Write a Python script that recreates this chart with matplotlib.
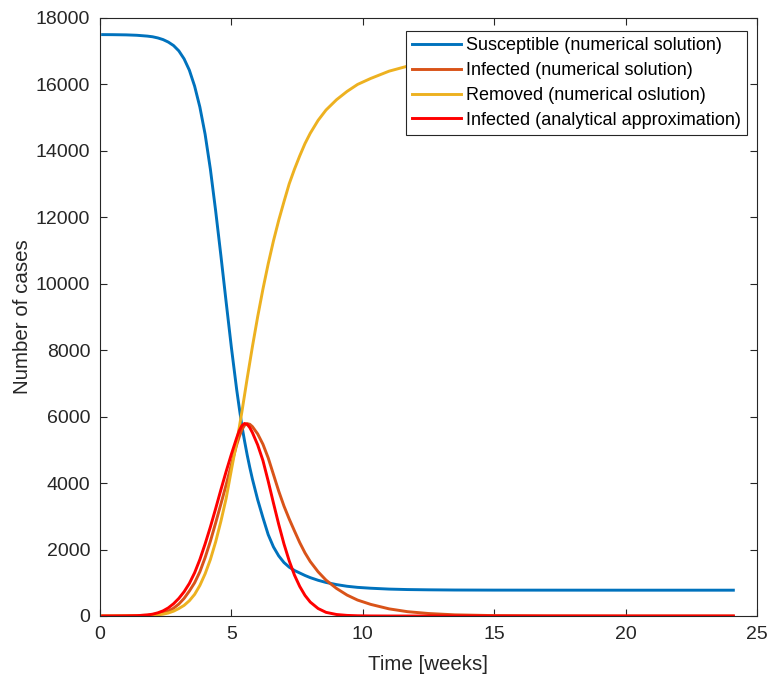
import matplotlib
matplotlib.use("Agg")
import matplotlib.pyplot as plt

# values (time in weeks)
t = [0.1, 0.5, 1.0, 1.4, 1.8, 2.0, 2.2, 2.4, 2.6, 2.8, 3.0, 3.2, 3.4, 3.6, 3.8,
     4.0, 4.2, 4.4, 4.6, 4.8, 5.0, 5.2, 5.3, 5.4, 5.5, 5.6, 5.7, 5.8, 6.0, 6.2,
     6.4, 6.6, 6.8, 7.0, 7.2, 7.4, 7.6, 7.8, 8.0, 8.3, 8.6, 9.0, 9.4, 9.8, 10.3,
     11, 11.7, 12.5, 13.5, 15, 17, 20, 24.1]

susceptible = [17500, 17498, 17492, 17480, 17455, 17435, 17400, 17350, 17275, 17170,
               17010, 16770, 16430, 15950, 15320, 14500, 13450, 12200, 10850, 9450,
               8080, 6820, 6260, 5720, 5270, 4850, 4470, 4120, 3500, 2960,
               2450, 2080, 1810, 1610, 1470, 1370, 1295, 1220, 1155, 1075,
               1010, 945, 895, 862, 836, 810, 796, 788, 782, 779, 778, 777, 777]

infected = [1, 2, 5, 11, 27, 40, 63, 97, 150, 235, 360, 530, 750, 1000, 1330,
            1760, 2250, 2800, 3370, 3950, 4560, 5150, 5400, 5610, 5740, 5790, 5770,
            5700, 5480, 5170, 4760, 4260, 3760, 3310, 2920, 2560, 2210, 1900, 1640,
            1330, 1080, 830, 630, 480, 350, 215, 130, 75, 35, 12, 3, 0, 0]

removed = [0, 0, 2, 5, 13, 20, 33, 55, 90, 145, 225, 320, 460, 650, 920,
           1270, 1700, 2230, 2850, 3540, 4400, 5230, 5680, 6150, 6650, 7150, 7630,
           8110, 9010, 9840, 10600, 11290, 11910, 12470, 13010, 13450, 13850, 14220,
           14530, 14920, 15230, 15540, 15790, 16000, 16180, 16400, 16550, 16640,
           16690, 16715, 16720, 16723, 16723]

infected_approx = [0, 1, 4, 10, 30, 55, 95, 155, 245, 370, 530, 730, 980, 1300, 1700,
                   2170, 2680, 3230, 3800, 4350, 4870, 5360, 5580, 5730, 5795, 5770, 5670,
                   5520, 5150, 4680, 4060, 3400, 2760, 2170, 1660, 1230, 890, 620, 420,
                   225, 110, 45, 18, 7, 2, 0, 0, 0, 0, 0, 0, 0, 0]

plt.rcParams['font.family'] = ['Liberation Sans', 'DejaVu Sans']
dark = '#262626'

fig = plt.figure(figsize=(7.69, 6.75), dpi=100)
ax = fig.add_axes([100 / 769, 1 - 616 / 675, 657 / 769, 598 / 675])

ax.plot(t, susceptible, color='#0072BD', lw=2.1, label='Susceptible (numerical solution)')
ax.plot(t, infected, color='#D95319', lw=2.1, label='Infected (numerical solution)')
ax.plot(t, removed, color='#EDB120', lw=2.1, label='Removed (numerical oslution)')
ax.plot(t, infected_approx, color='#FF0000', lw=2.1, label='Infected (analytical approximation)')

ax.set_xlim(0, 25)
ax.set_ylim(0, 18000)
ax.set_xticks([0, 5, 10, 15, 20, 25])
ax.set_yticks(range(0, 18001, 2000))
ax.tick_params(direction='in', top=True, right=True, length=5, width=0.8,
               color=dark, labelcolor=dark, labelsize=14, pad=7)
for s in ax.spines.values():
    s.set_color(dark)
    s.set_linewidth(0.8)

ax.set_xlabel('Time [weeks]', fontsize=14.8, color=dark, labelpad=9)
ax.set_ylabel('Number of cases', fontsize=14.8, color=dark, labelpad=3)

leg = ax.legend(loc='upper right', bbox_to_anchor=(647 / 657, 585 / 598), fontsize=13,
                fancybox=False, framealpha=1, edgecolor=dark, borderpad=0.35,
                handlelength=2.7, handletextpad=0.28, labelspacing=0.43, borderaxespad=0)
leg.get_frame().set_linewidth(0.8)
for txt in leg.get_texts():
    txt.set_color('black')

fig.savefig('out.png', dpi=100)
